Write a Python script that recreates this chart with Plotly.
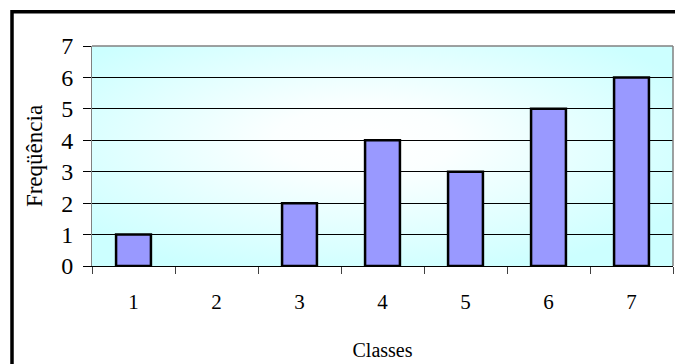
import base64
import plotly.graph_objects as go

categories = ["1", "2", "3", "4", "5", "6", "7"]
frequencies = [1, 0, 2, 4, 3, 5, 6]
y_ticks = [0, 1, 2, 3, 4, 5, 6, 7]

W, H = 675, 364
L, R, T, B = 92, 2, 46, 98
pw = W - L - R
ph = H - T - B

svg = (
    '<svg xmlns="http://www.w3.org/2000/svg" width="400" height="200" '
    'viewBox="0 0 400 200" preserveAspectRatio="none">'
    '<defs><radialGradient id="g" cx="0.47" cy="0.45" r="0.62" fx="0.47" fy="0.42">'
    '<stop offset="0" stop-color="#FFFFFF"/>'
    '<stop offset="0.25" stop-color="#FBFFFF"/>'
    '<stop offset="1" stop-color="#CCFFFF"/>'
    '</radialGradient></defs>'
    '<rect x="0" y="0" width="400" height="200" fill="url(#g)"/></svg>'
)
src = "data:image/svg+xml;base64," + base64.b64encode(svg.encode()).decode()

fig = go.Figure()
fig.add_trace(go.Bar(
    x=categories, y=frequencies, width=0.42,
    marker=dict(color="#9999FF",
                line=dict(color="black", width=[2.5 if v else 0 for v in frequencies])),
    hoverinfo="skip",
))

font = "Liberation Serif, Times New Roman, serif"

fig.update_layout(
    width=W, height=H,
    margin=dict(l=L, r=R, t=T, b=B),
    paper_bgcolor="white",
    plot_bgcolor="rgba(0,0,0,0)",
    showlegend=False,
    font=dict(family=font, color="black", size=20),
    xaxis=dict(
        type="category", range=[-0.5, 6.5],
        showgrid=False, showline=True, linecolor="black", linewidth=1,
        ticks="outside", ticklen=7, tickcolor="#404040", tickson="boundaries",
        ticklabelstandoff=17,
        tickfont=dict(family=font, size=21),
        title=dict(text="Classes", font=dict(family=font, size=20), standoff=29),
    ),
    yaxis=dict(
        range=[0, 7], tickvals=y_ticks, ticktext=[str(v) for v in y_ticks],
        showgrid=True, gridcolor="black", gridwidth=1,
        zeroline=False, showline=True, linecolor="#808080", linewidth=1,
        ticks="outside", ticklen=8, tickcolor="black",
        ticklabelstandoff=5,
        tickfont=dict(family=font, size=24),
        title=dict(text="Freqüência", font=dict(family=font, size=23), standoff=12),
    ),
    images=[dict(
        source=src, xref="paper", yref="paper", x=0, y=1,
        sizex=1, sizey=1, xanchor="left", yanchor="top",
        sizing="stretch", layer="below",
    )],
)

# plot area border (gray) on top and right
fig.add_shape(type="line", xref="paper", yref="paper", x0=0, x1=1, y0=1, y1=1,
              line=dict(color="#808080", width=1.5))
fig.add_shape(type="line", xref="paper", yref="paper", x0=1, x1=1, y0=0, y1=1,
              line=dict(color="#808080", width=1.5))

# outer chart border (thick black), extending past the right/bottom edges
bx0 = (12 - L) / pw
by1 = 1 + (T - 11.8) / ph
fig.add_shape(type="rect", xref="paper", yref="paper",
              x0=bx0, x1=1.2, y0=-0.8, y1=by1,
              line=dict(color="black", width=3.5), fillcolor="rgba(0,0,0,0)",
              layer="above")

fig.write_html("out.html", config={"displayModeBar": False},
               post_script="document.body.style.margin='0';document.body.style.overflow='hidden';")
